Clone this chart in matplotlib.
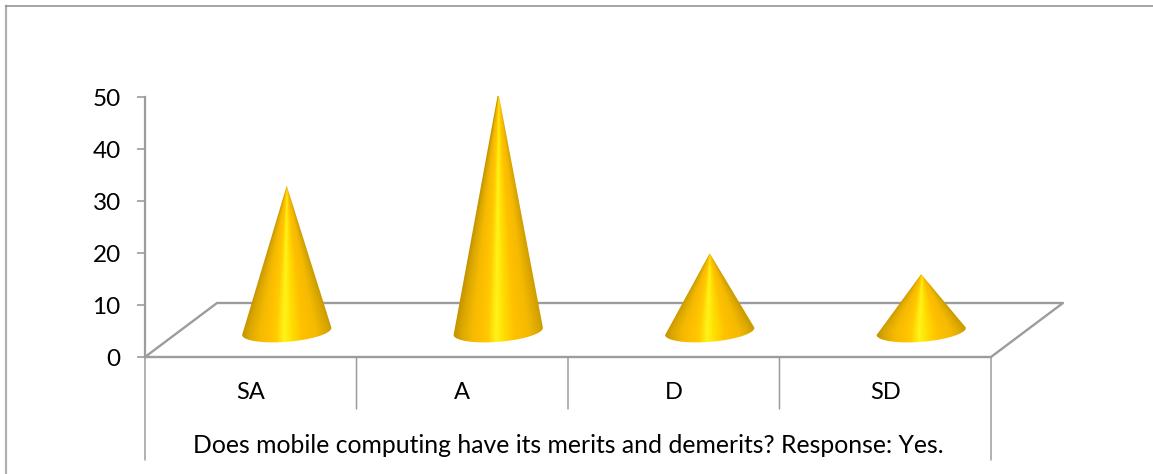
import numpy as np
import matplotlib
matplotlib.use("Agg")
import matplotlib.pyplot as plt
from matplotlib.colors import LinearSegmentedColormap
from matplotlib.patches import PathPatch
from matplotlib.path import Path

categories = ["SA", "A", "D", "SD"]
values = [28, 46, 15, 11]
y_ticks = [0, 10, 20, 30, 40, 50]
x_title = "Does mobile computing have its merits and demerits? Response: Yes."

W, H = 1153, 474
GRAY = "#9c9c9c"

# Plot rectangle in pixels (front face of the 3D box)
PX_LEFT, PX_RIGHT = 145, 991
PX_TOP, PX_BOTTOM = 97, 357

plt.rcParams["font.family"] = ["Lato", "DejaVu Sans"]

fig = plt.figure(figsize=(W / 100, H / 100), dpi=100)
ax = fig.add_axes([PX_LEFT / W, 1 - PX_BOTTOM / H,
                   (PX_RIGHT - PX_LEFT) / W, (PX_BOTTOM - PX_TOP) / H])
ax.set_xlim(0, len(categories))
ax.set_ylim(0, 50)

# One data unit in pixels
sx = (PX_RIGHT - PX_LEFT) / len(categories)
sy = (PX_BOTTOM - PX_TOP) / 50

for name in ["top", "right", "bottom"]:
    ax.spines[name].set_visible(False)
ax.spines["left"].set_color(GRAY)
ax.spines["left"].set_linewidth(1.6)

ax.set_yticks(y_ticks)
ax.tick_params(axis="y", length=5.5, width=1.2, color=GRAY, labelsize=17.5, pad=12)
ax.set_xticks(np.arange(len(categories)) + 0.5, categories)
ax.tick_params(axis="x", length=0, labelsize=17, pad=18)
ax.set_xlabel(x_title, fontsize=17.8, labelpad=22)

# Floor of the 3D box
dx_back = 72 / sx
dy_back = 54 / sy
n = len(categories)
ax.plot([0, n, n + dx_back, dx_back, 0], [0, 0, dy_back, dy_back, 0],
        color=GRAY, lw=1.7, clip_on=False, zorder=1)

# Category dividers below the axis
for i in range(n + 1):
    bottom = -103 if i in (0, n) else -52
    ax.annotate("", xy=(i, 0), xycoords="data", xytext=(0, bottom * 0.72),
                textcoords="offset points",
                arrowprops=dict(arrowstyle="-", color=GRAY, lw=1.1,
                                shrinkA=0, shrinkB=0))

# Cones, shaded in a fan that converges at the apex
cone_cmap = LinearSegmentedColormap.from_list(
    "gold", [(0.0, "#c49400"), (0.08, "#dca800"), (0.2, "#f6ba00"),
             (0.3, "#ffc000"), (0.38, "#ffcc00"), (0.47, "#fff41a"),
             (0.56, "#ffdc00"), (0.68, "#ffc000"), (0.82, "#f6ba00"),
             (0.94, "#dca800"), (1.0, "#cc9c00")])

half_w = 44.5 / sx
off_x = 36 / sx
base_y = 25.7 / sy
tilt = np.deg2rad(4.7)

for i, v in enumerate(values):
    xc = i + 0.5 + off_x
    top = base_y + v

    # lower half of the tilted base ellipse, in pixels relative to its centre
    t = np.linspace(np.pi, 2 * np.pi, 60)
    ex = 44.8 * np.cos(t)
    ey = 10.5 * np.sin(t)
    px = ex * np.cos(tilt) - ey * np.sin(tilt)
    py = ex * np.sin(tilt) + ey * np.cos(tilt)
    outline = [(xc, top)] + [(xc + a / sx, base_y + b / sy) for a, b in zip(px, py)]
    clip = PathPatch(Path(outline + [(xc, top)]), transform=ax.transData,
                     fc="none", ec="none")
    ax.add_patch(clip)

    xs = np.linspace(xc - half_w * 1.05, xc + half_w * 1.05, 180)
    ys = np.linspace(base_y - 12 / sy, top, 400)
    gx, gy = np.meshgrid(xs, ys)
    frac = np.clip((top - gy) / (top - base_y), 0.001, 1)
    u = np.clip((gx - xc) / (half_w * frac), -1, 1)
    im = ax.imshow((u + 1) / 2, origin="lower", aspect="auto", cmap=cone_cmap,
                   vmin=0, vmax=1, zorder=3,
                   extent=[xs[0], xs[-1], ys[0], ys[-1]])
    im.set_clip_path(clip)
    # A reaches past the top of the axis range
    im.set_clip_box(None)

ax.set_xlim(0, n)
ax.set_ylim(0, 50)

# Outer chart border
fig.add_artist(plt.Line2D([6 / W, 6 / W], [0, 1 - 6 / H], color="#b0b0b0", lw=1.6))
fig.add_artist(plt.Line2D([6 / W, 1], [1 - 6 / H, 1 - 6 / H], color="#8c8c8c", lw=1.1))

fig.savefig("out.png", dpi=100)
